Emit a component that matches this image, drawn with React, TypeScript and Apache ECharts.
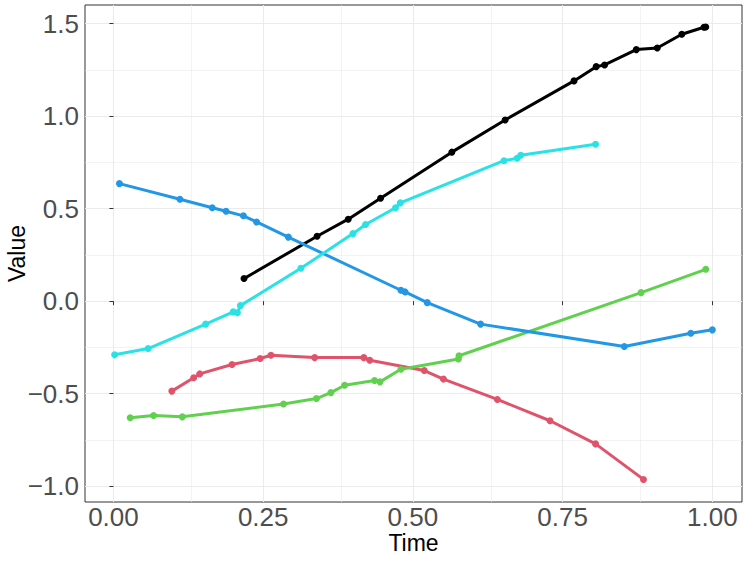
import React, { useEffect, useRef } from "react";
import * as echarts from "echarts";

// ---- data ----
const blackX = [0.218, 0.340, 0.392, 0.446, 0.565, 0.654, 0.769, 0.806, 0.820, 0.873, 0.908, 0.949, 0.986, 0.989];
const blackY = [0.122, 0.351, 0.443, 0.556, 0.805, 0.979, 1.190, 1.267, 1.276, 1.359, 1.368, 1.442, 1.480, 1.481];

const redX = [0.0975, 0.134, 0.144, 0.198, 0.245, 0.263, 0.336, 0.418, 0.428, 0.519, 0.551, 0.641, 0.729, 0.805, 0.885];
const redY = [-0.486, -0.414, -0.393, -0.342, -0.310, -0.292, -0.305, -0.305, -0.319, -0.375, -0.421, -0.531, -0.646, -0.771, -0.963];

const greenX = [0.028, 0.067, 0.115, 0.284, 0.339, 0.363, 0.386, 0.436, 0.445, 0.480, 0.576, 0.577, 0.881, 0.989];
const greenY = [-0.630, -0.618, -0.625, -0.556, -0.526, -0.494, -0.454, -0.429, -0.436, -0.368, -0.312, -0.295, 0.046, 0.172];

const blueX = [0.010, 0.111, 0.165, 0.188, 0.217, 0.239, 0.292, 0.480, 0.487, 0.524, 0.613, 0.853, 0.964, 1.000];
const blueY = [0.635, 0.551, 0.505, 0.486, 0.461, 0.428, 0.346, 0.059, 0.050, -0.008, -0.124, -0.245, -0.173, -0.155];

const cyanX = [0.002, 0.058, 0.154, 0.200, 0.207, 0.212, 0.313, 0.400, 0.421, 0.471, 0.479, 0.652, 0.674, 0.680, 0.805];
const cyanY = [-0.290, -0.256, -0.124, -0.058, -0.063, -0.024, 0.178, 0.365, 0.414, 0.505, 0.531, 0.759, 0.772, 0.788, 0.848];

const seriesNames = ["1", "2", "3", "4", "5"];
const seriesColors = ["#000000", "#DF536B", "#61D04F", "#2297E6", "#28E2E5"];

const xTickVals = [0, 0.25, 0.5, 0.75, 1];
const xTickLabels = ["0.00", "0.25", "0.50", "0.75", "1.00"];
const xMinorVals = [0.125, 0.375, 0.625, 0.875];
const yTickVals = [-1, -0.5, 0, 0.5, 1, 1.5];
const yTickLabels = ["\u22121.0", "\u22120.5", "0.0", "0.5", "1.0", "1.5"];
const yMinorVals = [-0.75, -0.25, 0.25, 0.75, 1.25];

const xTitle = "Time";
const yTitle = "Value";

const FONT = "'Liberation Sans', Arial, Helvetica, sans-serif";

function zip(xs: number[], ys: number[]) {
  return xs.map((x, i) => [x, ys[i]]);
}

function labelFor(vals: number[], labels: string[]) {
  return (v: number) => {
    const i = vals.findIndex((t) => Math.abs(t - v) < 1e-9);
    return i >= 0 ? labels[i] : "";
  };
}

export default function App() {
  const ref = useRef<HTMLDivElement>(null);

  useEffect(() => {
    if (!ref.current) return;
    const chart = echarts.init(ref.current, undefined, { renderer: "svg" });
    const allData = [
      zip(blackX, blackY),
      zip(redX, redY),
      zip(greenX, greenY),
      zip(blueX, blueY),
      zip(cyanX, cyanY),
    ];

    const gridLine = (vals: number[], key: "xAxis" | "yAxis", width: number) =>
      vals.map((v) => ({ [key]: v, lineStyle: { color: "#EBEBEB", width, type: "solid" } }));

    const series: any[] = [
      {
        type: "line",
        data: [],
        silent: true,
        z: 0,
        markLine: {
          silent: true,
          z: 0,
          symbol: ["none", "none"],
          label: { show: false },
          animation: false,
          data: [
            ...gridLine(xMinorVals, "xAxis", 0.6),
            ...gridLine(yMinorVals, "yAxis", 0.6),
            ...gridLine(xTickVals, "xAxis", 1.1),
            ...gridLine(yTickVals, "yAxis", 1.1),
          ],
        },
      },
    ];
    allData.forEach((d, i) => {
      series.push({
        type: "line",
        name: seriesNames[i],
        data: d,
        showSymbol: true,
        showAllSymbol: true,
        symbol: "circle",
        symbolSize: 7,
        z: 3,
        clip: false,
        smooth: false,
        silent: true,
        lineStyle: { color: seriesColors[i], width: 3, cap: "round", join: "round" },
        itemStyle: { color: seriesColors[i], borderWidth: 0 },
        emphasis: { disabled: true },
      });
    });

    chart.setOption({
      animation: false,
      backgroundColor: "#FFFFFF",
      grid: {
        left: 85,
        right: 5,
        top: 5,
        bottom: 59,
        show: true,
        containLabel: false,
        outerBoundsMode: "none",
        borderColor: "#333333",
        borderWidth: 1,
      },
      xAxis: {
        type: "value",
        min: -0.0475,
        max: 1.0495,
        name: xTitle,
        nameLocation: "middle",
        nameGap: 29,
        nameMoveOverlap: false,
        nameTextStyle: { fontFamily: FONT, fontSize: 23, color: "#000000", lineHeight: 23 },
        axisLine: { show: false },
        splitLine: { show: false },
        axisTick: {
          show: true,
          customValues: xTickVals,
          length: 4,
          lineStyle: { color: "#333333", width: 1 },
        },
        axisLabel: {
          customValues: xTickVals,
          formatter: labelFor(xTickVals, xTickLabels),
          fontFamily: FONT,
          fontSize: 26,
          lineHeight: 22,
          color: "#4D4D4D",
          margin: 4,
        },
      },
      yAxis: {
        type: "value",
        min: -1.085,
        max: 1.6,
        name: yTitle,
        nameLocation: "middle",
        nameGap: 57,
        nameMoveOverlap: false,
        nameTextStyle: { fontFamily: FONT, fontSize: 23, color: "#000000" },
        axisLine: { show: false },
        splitLine: { show: false },
        axisTick: {
          show: true,
          customValues: yTickVals,
          length: 4,
          lineStyle: { color: "#333333", width: 1 },
        },
        axisLabel: {
          customValues: yTickVals,
          formatter: labelFor(yTickVals, yTickLabels),
          fontFamily: FONT,
          fontSize: 26,
          color: "#4D4D4D",
          margin: 6,
        },
      },
      series,
    });

    return () => {
      chart.dispose();
    };
  }, []);

  return (
    <div
      ref={ref}
      style={{ position: "absolute", left: 0, top: 0, width: 747, height: 561, background: "#fff" }}
    />
  );
}
